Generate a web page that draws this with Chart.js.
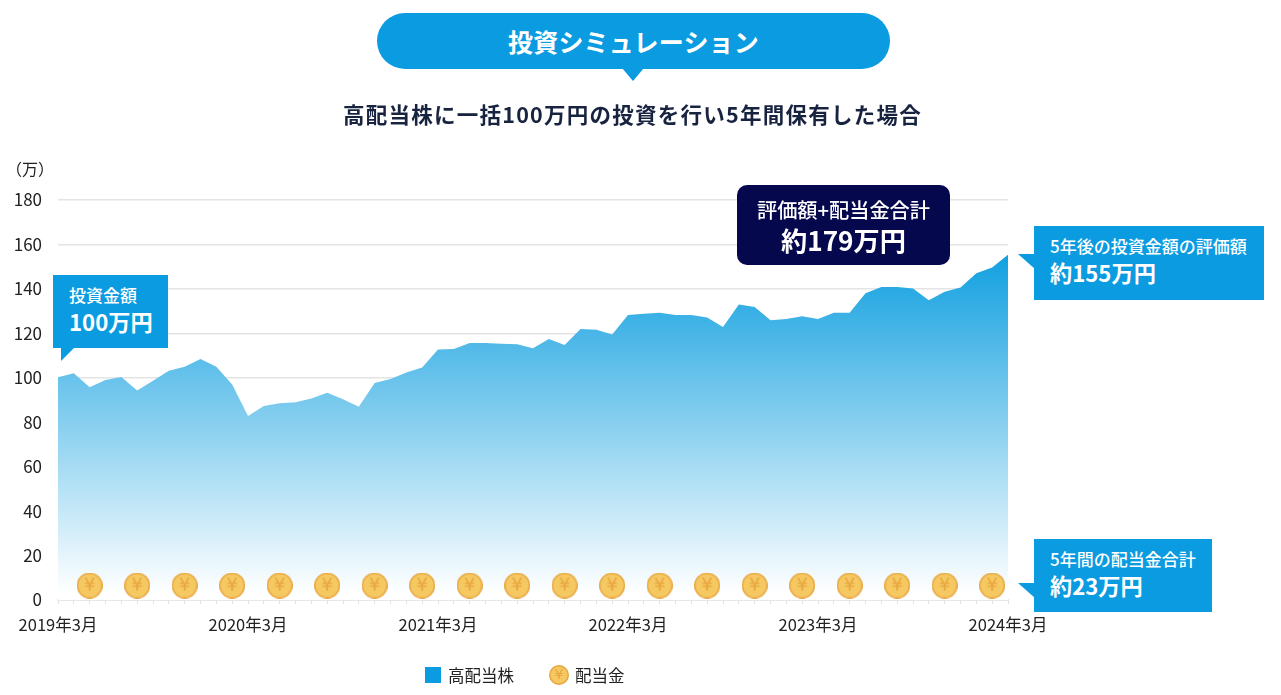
<!DOCTYPE html>
<html lang="ja">
<head>
<meta charset="utf-8">
<title>投資シミュレーション</title>
<script src="https://cdn.jsdelivr.net/npm/chart.js@4"></script>
<style>
  html, body { margin: 0; padding: 0; background: #fff; }
  body { position: relative; width: 1281px; height: 695px; overflow: hidden;
    font-family: "Noto Sans CJK JP", "Noto Sans", sans-serif; }
  canvas#chart { position: absolute; left: 0; top: 0; }
  .abs { position: absolute; white-space: nowrap; }
  .pill { left: 377px; top: 13px; width: 513px; height: 56px; border-radius: 28px; background: #0a9be0;
    color: #fff; font-size: 25px; font-weight: 700; line-height: 56px; text-align: center; letter-spacing: 0.2px; }
  .tail { background: #0a9be0; }
  .subtitle { left: 0; width: 1265px; top: 97px; text-align: center; font-size: 21.5px; font-weight: 700;
    line-height: 34px; color: #17233f; letter-spacing: 1.25px; }
  .unit { left: 6px; top: 157px; font-size: 16px; line-height: 22px; color: #222; }
  .box { background: #0a9be0; color: #fff; }
  .box .l1, .box .l2 { position: absolute; white-space: nowrap; }
  .box .l1 { font-weight: 500; font-size: 17px; line-height: 22px; top: 9px; left: 16px; }
  .box .l2 { font-weight: 700; font-size: 22.2px; line-height: 30px; top: 31px; left: 16px; }
  .dark { background: #06084d; border-radius: 10px; text-align: center; }
  .dark .l1 { font-size: 20.2px; line-height: 26px; left: 0; right: 0; top: 12px; }
  .dark .l2 { font-size: 26.2px; line-height: 34px; left: 0; right: 0; top: 38px; }
  .legend { top: 664px; left: 425px; display: flex; align-items: center; font-size: 16.5px; color: #222; line-height: 22px; }
  .legend .sq { width: 16px; height: 16px; background: #0a9be0; margin-right: 7px; }
  .legend canvas { margin-left: 35px; margin-right: 6px; }
</style>
</head>
<body>
<canvas id="chart" width="1281" height="695"></canvas>

<div class="abs tail" style="left:622px;top:68px;width:22px;height:13px;clip-path:polygon(0 0,100% 0,50% 100%)"></div>
<div class="abs pill">投資シミュレーション</div>
<div class="abs subtitle">高配当株に一括100万円の投資を行い5年間保有した場合</div>
<div class="abs unit">（万）</div>

<div class="abs tail" style="left:61px;top:347px;width:14px;height:14px;clip-path:polygon(0 0,100% 0,0 100%)"></div>
<div class="abs box" style="left:53px;top:275px;width:115px;height:73px">
  <div class="l1">投資金額</div>
  <div class="l2">100万円</div>
</div>

<div class="abs box dark" style="left:737px;top:185px;width:213px;height:80px">
  <div class="l1">評価額+配当金合計</div>
  <div class="l2">約179万円</div>
</div>

<div class="abs tail" style="left:1018px;top:254px;width:17px;height:15px;clip-path:polygon(0 0,100% 0,100% 100%)"></div>
<div class="abs box" style="left:1034px;top:226px;width:230px;height:74px">
  <div class="l1">5年後の投資金額の評価額</div>
  <div class="l2">約155万円</div>
</div>

<div class="abs tail" style="left:1018px;top:583px;width:17px;height:15px;clip-path:polygon(0 0,100% 0,100% 100%)"></div>
<div class="abs box" style="left:1034px;top:539px;width:178px;height:73px">
  <div class="l1">5年間の配当金合計</div>
  <div class="l2">約23万円</div>
</div>

<div class="abs legend" id="legend">
  <span class="sq"></span><span>高配当株</span>
</div>

<script>
const months = [
  '2019年3月', '2019年4月', '2019年5月', '2019年6月', '2019年7月', '2019年8月', '2019年9月', '2019年10月', '2019年11月', '2019年12月', '2020年1月', '2020年2月',
  '2020年3月', '2020年4月', '2020年5月', '2020年6月', '2020年7月', '2020年8月', '2020年9月', '2020年10月', '2020年11月', '2020年12月', '2021年1月', '2021年2月',
  '2021年3月', '2021年4月', '2021年5月', '2021年6月', '2021年7月', '2021年8月', '2021年9月', '2021年10月', '2021年11月', '2021年12月', '2022年1月', '2022年2月',
  '2022年3月', '2022年4月', '2022年5月', '2022年6月', '2022年7月', '2022年8月', '2022年9月', '2022年10月', '2022年11月', '2022年12月', '2023年1月', '2023年2月',
  '2023年3月', '2023年4月', '2023年5月', '2023年6月', '2023年7月', '2023年8月', '2023年9月', '2023年10月', '2023年11月', '2023年12月', '2024年1月', '2024年2月',
  '2024年3月',
];
const shownMonths = ['2019年3月', '2020年3月', '2021年3月', '2022年3月', '2023年3月', '2024年3月'];

// 高配当株 valuation, in 万円
const stockValues = [
  100.2, 102, 95.7, 99, 100.3, 94.3, 98.7, 103.2, 105, 108.5, 105, 97,
  82.8, 87.3, 88.5, 89, 90.7, 93.3, 90.3, 87, 97.6, 99.4, 102.4, 104.6,
  112.7, 112.9, 115.7, 115.7, 115.3, 115.1, 113.3, 117.5, 114.8, 122, 121.6, 119.5,
  128.3, 128.8, 129.3, 128.2, 128.2, 127.1, 122.8, 133, 131.8, 125.9, 126.5, 127.7,
  126.5, 129.3, 129.3, 138, 140.8, 140.8, 140.2, 134.9, 138.7, 140.6, 147, 149.6,
  155.4,
];

// coins sit on the quarters a dividend was paid
const dividendMarks = [
  null, null, 6.5, null, null, 6.5, null, null, 6.5, null, null, 6.5,
  null, null, 6.5, null, null, 6.5, null, null, 6.5, null, null, 6.5,
  null, null, 6.5, null, null, 6.5, null, null, 6.5, null, null, 6.5,
  null, null, 6.5, null, null, 6.5, null, null, 6.5, null, null, 6.5,
  null, null, 6.5, null, null, 6.5, null, null, 6.5, null, null, 6.5,
  null,
];

/** Draws the yen coin into its own small canvas, used as point style and in the legend. */
function makeCoin(size) {
  const c = document.createElement('canvas');
  c.width = size;
  c.height = size;
  const g = c.getContext('2d');
  const r = size / 2;
  g.beginPath();
  g.arc(r, r, r - 0.75, 0, Math.PI * 2);
  g.fillStyle = '#f5c862';
  g.fill();
  g.lineWidth = 1.5;
  g.strokeStyle = '#e8a63f';
  g.stroke();
  g.fillStyle = '#e8a63f';
  g.font = `400 ${Math.round(size * 0.68)}px "DejaVu Sans", sans-serif`;
  g.textAlign = 'center';
  g.textBaseline = 'middle';
  g.fillText('¥', r, r + 0.5);
  return c;
}

const areaFill = (context) => {
  const { ctx, chartArea, scales } = context.chart;
  if (!chartArea) return '#0a9be0';
  const grad = ctx.createLinearGradient(0, scales.y.getPixelForValue(160), 0, scales.y.getPixelForValue(3));
  grad.addColorStop(0, '#0a9ddf');
  grad.addColorStop(1, '#ffffff');
  return grad;
};

const legendEl = document.getElementById('legend');
legendEl.appendChild(makeCoin(20));
const legendText = document.createElement('span');
legendText.textContent = '配当金';
legendEl.appendChild(legendText);

new Chart(document.getElementById('chart'), {
  type: 'line',
  data: {
    labels: months,
    datasets: [
      {
        label: '配当金',
        data: dividendMarks,
        showLine: false,
        pointStyle: makeCoin(26),
        pointRadius: 13,
        order: 0,
      },
      {
        label: '高配当株',
        data: stockValues,
        fill: 'origin',
        backgroundColor: areaFill,
        borderWidth: 0,
        pointRadius: 0,
        tension: 0,
        order: 1,
      },
    ],
  },
  options: {
    responsive: false,
    animation: false,
    layout: { padding: { top: 200, right: 273, bottom: 45, left: 0 } },
    plugins: { legend: { display: false }, tooltip: { enabled: false } },
    scales: {
      x: {
        afterFit: (scale) => { scale.height = 50; },
        grid: { drawOnChartArea: false, tickLength: 4, color: '#e2e2e2', lineWidth: 1 },
        border: { color: '#e6e6e6', width: 2 },
        ticks: {
          autoSkip: false,
          maxRotation: 0,
          padding: 11,
          color: '#222',
          font: { family: '"Noto Sans CJK JP"', size: 16.5 },
          callback(value) {
            const label = this.getLabelForValue(value);
            return shownMonths.includes(label) ? label : '';
          },
        },
      },
      y: {
        min: 0,
        max: 180,
        afterFit: (scale) => { scale.width = 58; },
        grid: { color: '#e4e4e4', lineWidth: 1.5, drawTicks: false },
        border: { display: false },
        ticks: {
          stepSize: 20,
          padding: 16,
          color: '#222',
          font: { family: '"Noto Sans CJK JP"', size: 17 },
        },
      },
    },
  },
});
</script>
</body>
</html>
